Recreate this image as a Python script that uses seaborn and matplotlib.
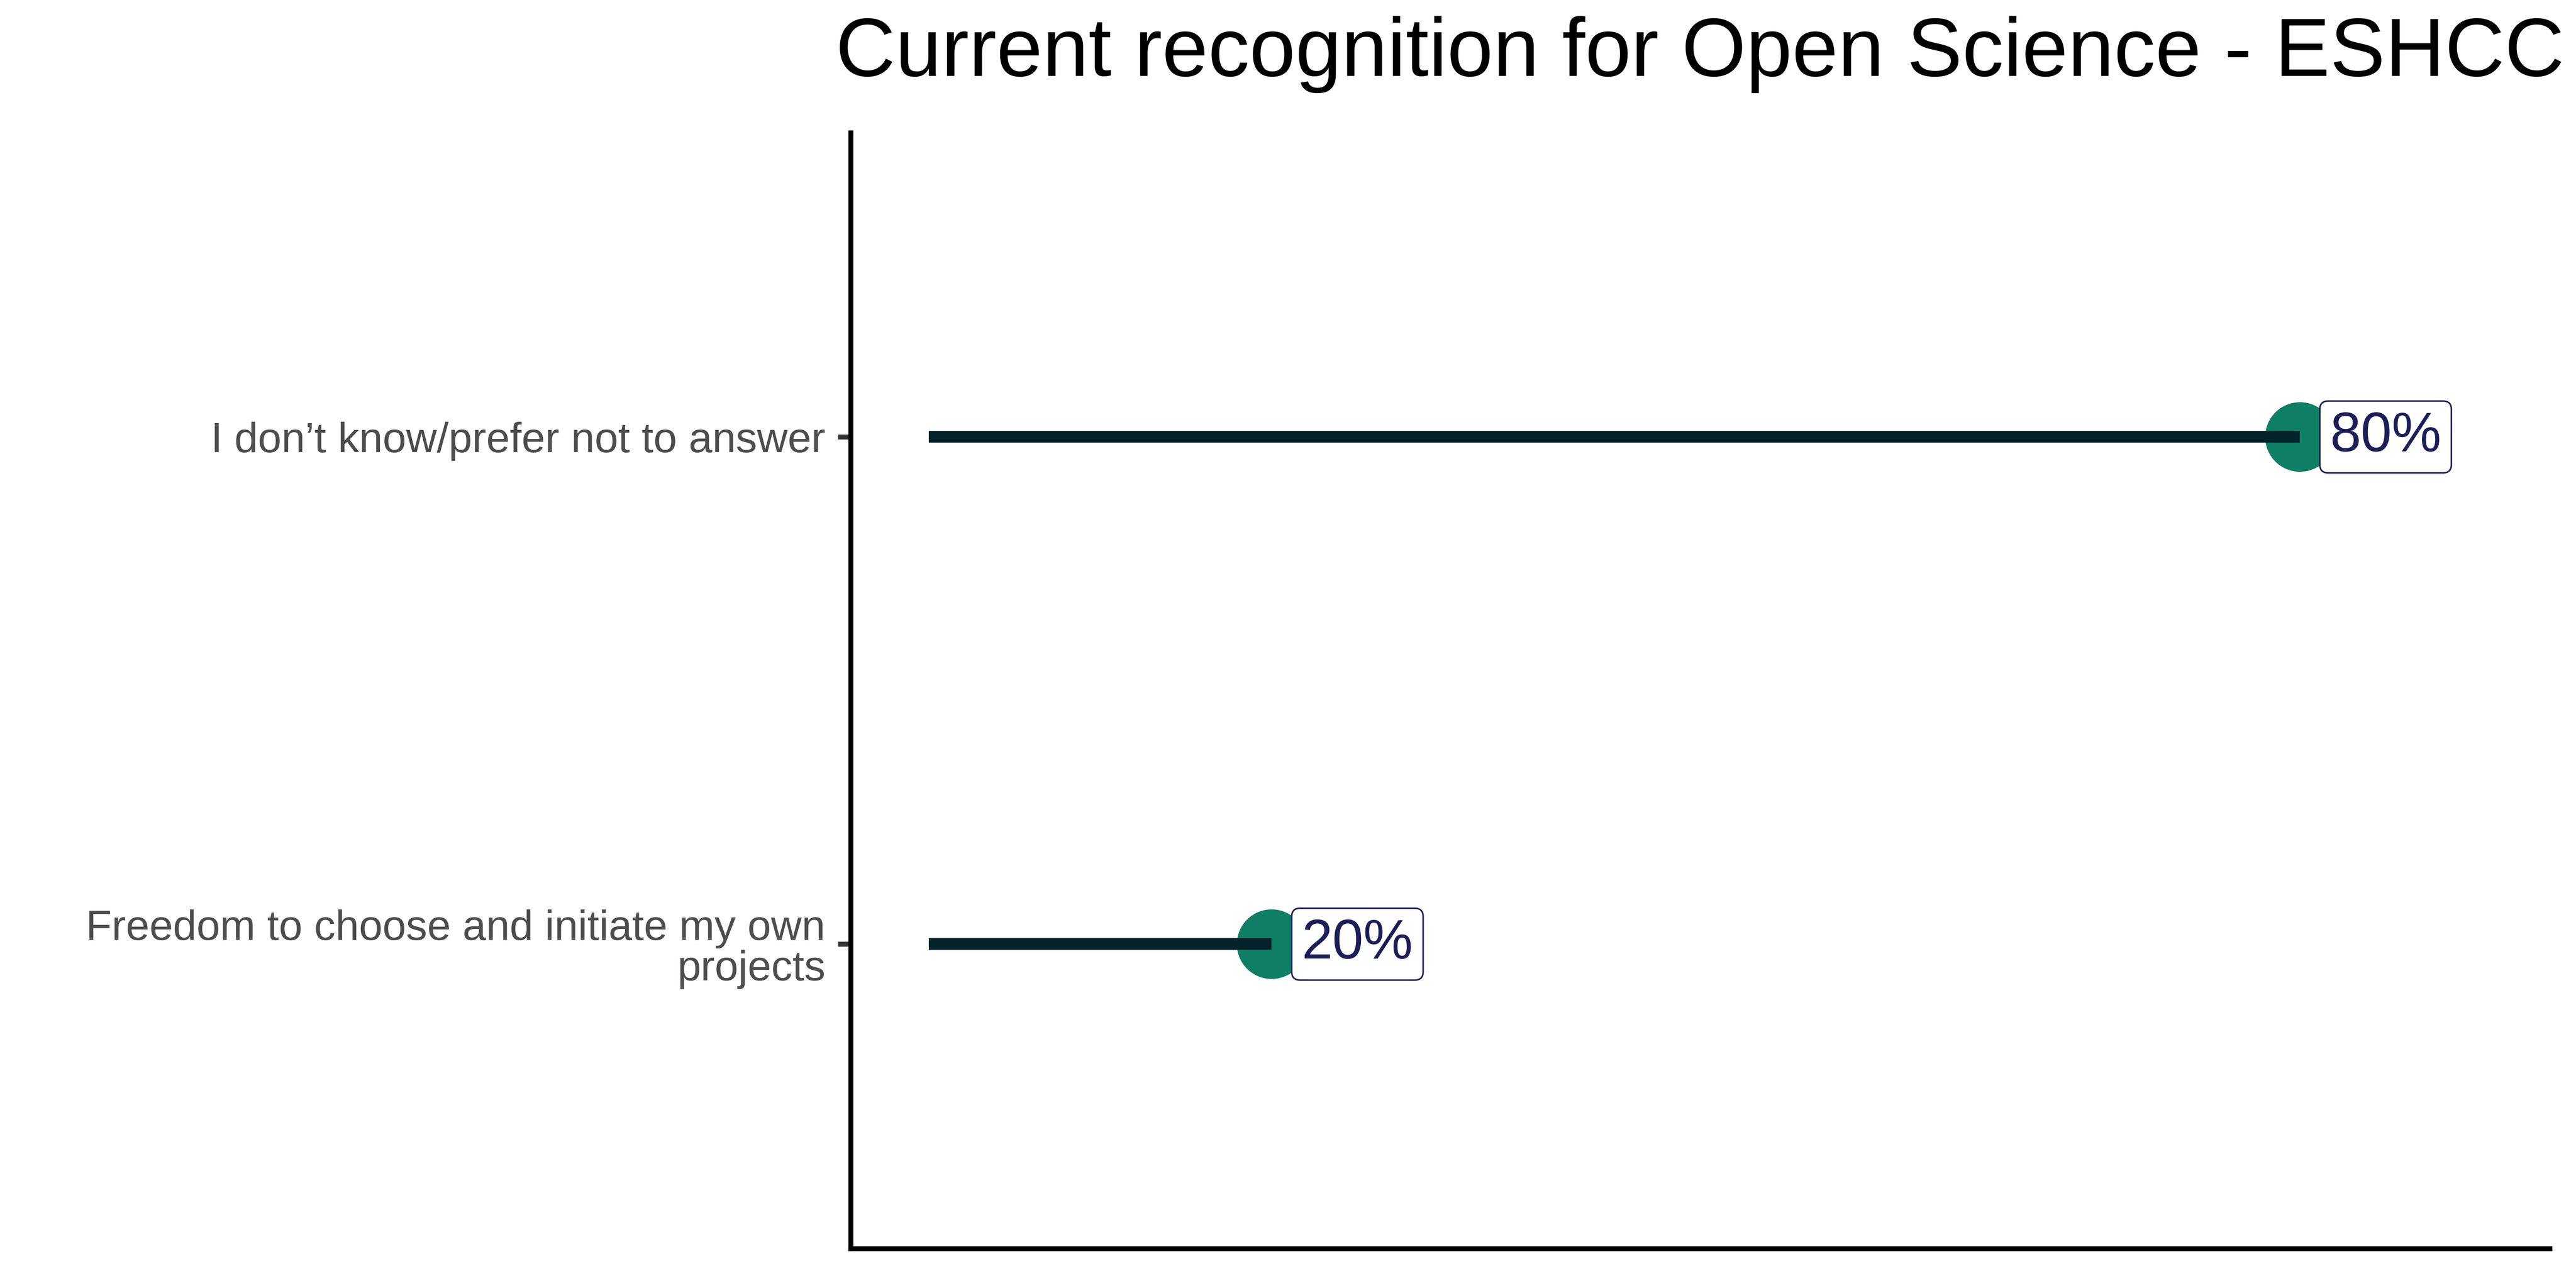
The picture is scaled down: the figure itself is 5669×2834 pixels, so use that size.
"""
Lollipop chart - Current recognition for Open Science (ESHCC)
"""
import seaborn as sns
import matplotlib.pyplot as plt
import pandas as pd

# data
categories = ["Freedom to choose and initiate my own\nprojects",
              "I don\u2019t know/prefer not to answer"]
percent = [20, 80]
labels = ["20%", "80%"]
title = "Current recognition for Open Science - ESHCC"

df = pd.DataFrame({"category": categories, "percent": percent, "label": labels})
df["pos"] = range(1, len(df) + 1)  # ggplot style discrete positions 1, 2

sns.set_theme(style="white")
plt.rcParams["font.family"] = ["Liberation Sans", "DejaVu Sans"]

fig, ax = plt.subplots(figsize=(5669 / 300, 2834 / 300), dpi=300)
fig.subplots_adjust(left=0.3302, right=0.9898, bottom=0.0307, top=0.897)

# dots
sns.scatterplot(data=df, x="percent", y="pos", s=1350, color="#0E7F65",
                linewidth=0, legend=False, ax=ax, zorder=2)
# stems
ax.hlines(df["pos"], 0, df["percent"], color="#03222A", linewidth=6.2,
          capstyle="butt", zorder=3)

# value labels
for _, row in df.iterrows():
    ax.annotate(row["label"], xy=(row["percent"], row["pos"]), xytext=(16, 0),
                textcoords="offset points", ha="left", va="center",
                fontsize=29.4, color="#1B1E57", zorder=4,
                bbox=dict(boxstyle="round,pad=0.18,rounding_size=0.15",
                          fc="white", ec="#1B1E57", lw=0.8))

ax.set_xlim(-4.56, 94.6)
ax.set_ylim(0.4, 2.6)
ax.set_yticks(df["pos"])
ax.set_yticklabels(df["category"], fontsize=22.4, color="#4D4D4D",
                   linespacing=1.04)
ax.set_xticks([])
ax.set_xlabel("")
ax.set_ylabel("")
ax.tick_params(axis="y", left=True, length=6.7, width=2.6, color="#333333",
               pad=6.7)

for side in ["top", "right"]:
    ax.spines[side].set_visible(False)
for side in ["left", "bottom"]:
    ax.spines[side].set_color("black")
    ax.spines[side].set_linewidth(2.6)

# title centred over the panel, baseline placed just above it
ax.set_title(title, fontsize=43.7, color="black", y=1.0406, va="baseline")

fig.savefig("out.png", dpi=300)
